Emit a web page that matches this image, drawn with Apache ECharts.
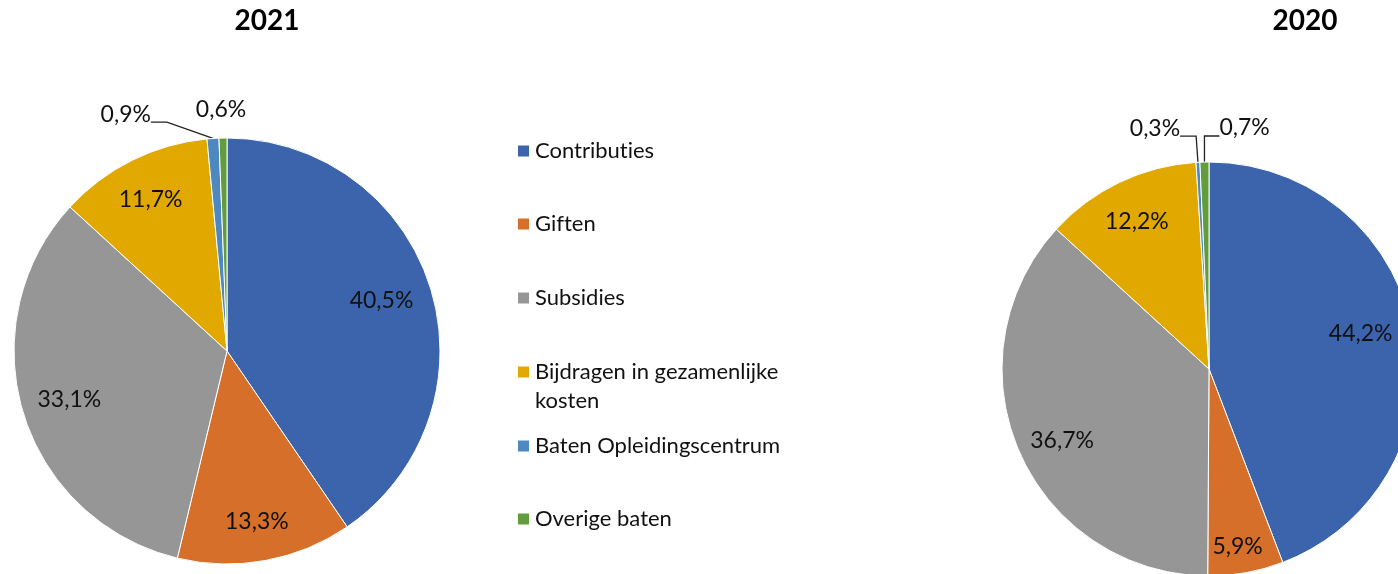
<!DOCTYPE html>
<html>
<head>
<meta charset="utf-8">
<script src="https://cdn.jsdelivr.net/npm/echarts@6/dist/echarts.min.js"></script>
<style>
    html, body { margin: 0; padding: 0; background: #fff; }
    #chart { width: 1398px; height: 574px; }
</style>
</head>
<body>
<div id="chart"></div>
<script>
// no "ti" ligature from Lato on the canvas
var fillTextOrig = CanvasRenderingContext2D.prototype.fillText;
CanvasRenderingContext2D.prototype.fillText = function () {
    this.textRendering = 'optimizeSpeed';
    return fillTextOrig.apply(this, arguments);
};

var categories = ['Contributies', 'Giften', 'Subsidies', 'Bijdragen in gezamenlijke kosten', 'Baten Opleidingscentrum', 'Overige baten'];
var values2021 = [40.5, 13.3, 33.1, 11.7, 0.9, 0.6];
var values2020 = [44.2, 5.9, 36.7, 12.2, 0.3, 0.7];
var years = ['2021', '2020'];
var colors = ['#3c64ad', '#d56f2a', '#969696', '#e1a800', '#4d88c1', '#619c3d'];

var font = 'Lato';

function pct(p) {
    return p.value.toFixed(1).replace('.', ',') + '%';
}

// pie + transparent ring on top that only carries the labels
// smallLabels: where the labels of the thin slices go, relative to the slice
// nudge: small shifts of the inside labels
function pieSeries(values, center, radius, smallLabels, nudge) {
    var data = values.map(function (v, i) {
        return { name: categories[i], value: v };
    });
    var labelData = values.map(function (v, i) {
        var s = smallLabels[i];
        var item = {
            name: categories[i],
            value: v,
            label: { position: s ? 'outside' : 'inside' },
            labelLine: { show: !!(s && s.line) }
        };
        if (s && s.line) {
            // empty second line: leader line meets the label below its middle
            item.label.lineHeight = 16;
            item.label.formatter = function (p) { return pct(p) + '\n'; };
        }
        return item;
    });
    return [
        {
            type: 'pie',
            center: center,
            radius: radius,
            startAngle: 90,
            data: data,
            label: { show: false },
            labelLine: { show: false },
            itemStyle: { borderColor: '#fff', borderWidth: 1 },
            emphasis: { disabled: true }
        },
        {
            type: 'pie',
            center: center,
            radius: [radius * 0.52, radius],
            startAngle: 90,
            silent: true,
            avoidLabelOverlap: false,
            data: labelData,
            itemStyle: { color: 'rgba(0,0,0,0)' },
            label: {
                show: true,
                formatter: pct,
                fontFamily: font,
                fontSize: 23,
                color: '#111'
            },
            labelLine: {
                length: 10,
                length2: 16,
                lineStyle: { color: '#222', width: 1.3 }
            },
            labelLayout: function (p) {
                var s = smallLabels[p.dataIndex];
                if (s) {
                    return {
                        x: p.rect.x + p.rect.width / 2 + s.dx,
                        y: p.rect.y + s.dy,
                        align: s.align,
                        verticalAlign: 'middle'
                    };
                }
                var n = nudge[p.dataIndex];
                if (n) {
                    return {
                        x: p.labelRect.x + p.labelRect.width / 2 + n[0],
                        y: p.labelRect.y + p.labelRect.height / 2 + n[1],
                        align: 'center',
                        verticalAlign: 'middle'
                    };
                }
                return {};
            },
            emphasis: { disabled: true }
        }
    ];
}

var markerY = [151, 224, 298, 372, 446, 519];

var chart = echarts.init(document.getElementById('chart'));
var option = {
    animation: false,
    color: colors,
    title: [
        { text: years[0], left: 267, top: 7, textAlign: 'center', padding: 0,
          textStyle: { fontFamily: font, fontWeight: 'bold', fontSize: 28, color: '#000' } },
        { text: years[1], left: 1305, top: 7, textAlign: 'center', padding: 0,
          textStyle: { fontFamily: font, fontWeight: 'bold', fontSize: 28, color: '#000' } }
    ],
    legend: categories.map(function (name, i) {
        var twoLines = i === 3;
        return {
            data: [name],
            orient: 'vertical',
            left: 516,
            top: markerY[i] - (twoLines ? 43.5 : 14.5),
            padding: 0,
            icon: 'rect',
            itemWidth: 13,
            itemHeight: 13,
            selectedMode: false,
            formatter: function (n) {
                // empty first line keeps "Bijdragen..." level with its marker
                return n === 'Bijdragen in gezamenlijke kosten' ? '\nBijdragen in gezamenlijke\nkosten' : n;
            },
            textStyle: {
                fontFamily: font,
                fontSize: 22,
                color: '#111',
                lineHeight: 29
            }
        };
    }),
    series: pieSeries(values2021, [227, 351], 213, {
        4: { dx: -64, dy: -16, align: 'right', line: true },
        5: { dx: -2, dy: -28, align: 'center', line: false }
    }, {
        0: [-3, -2],
        1: [0, 8],
        3: [-3, -4]
    }).concat(pieSeries(values2020, [1209, 369], 207, {
        4: { dx: -20, dy: -26, align: 'right', line: true },
        5: { dx: 15, dy: -26, align: 'left', line: true }
    }, {
        0: [-6, -6],
        1: [0, 20],
        2: [0, 7],
        3: [-3, -3]
    }))
};
chart.setOption(option);
</script>
</body>
</html>
